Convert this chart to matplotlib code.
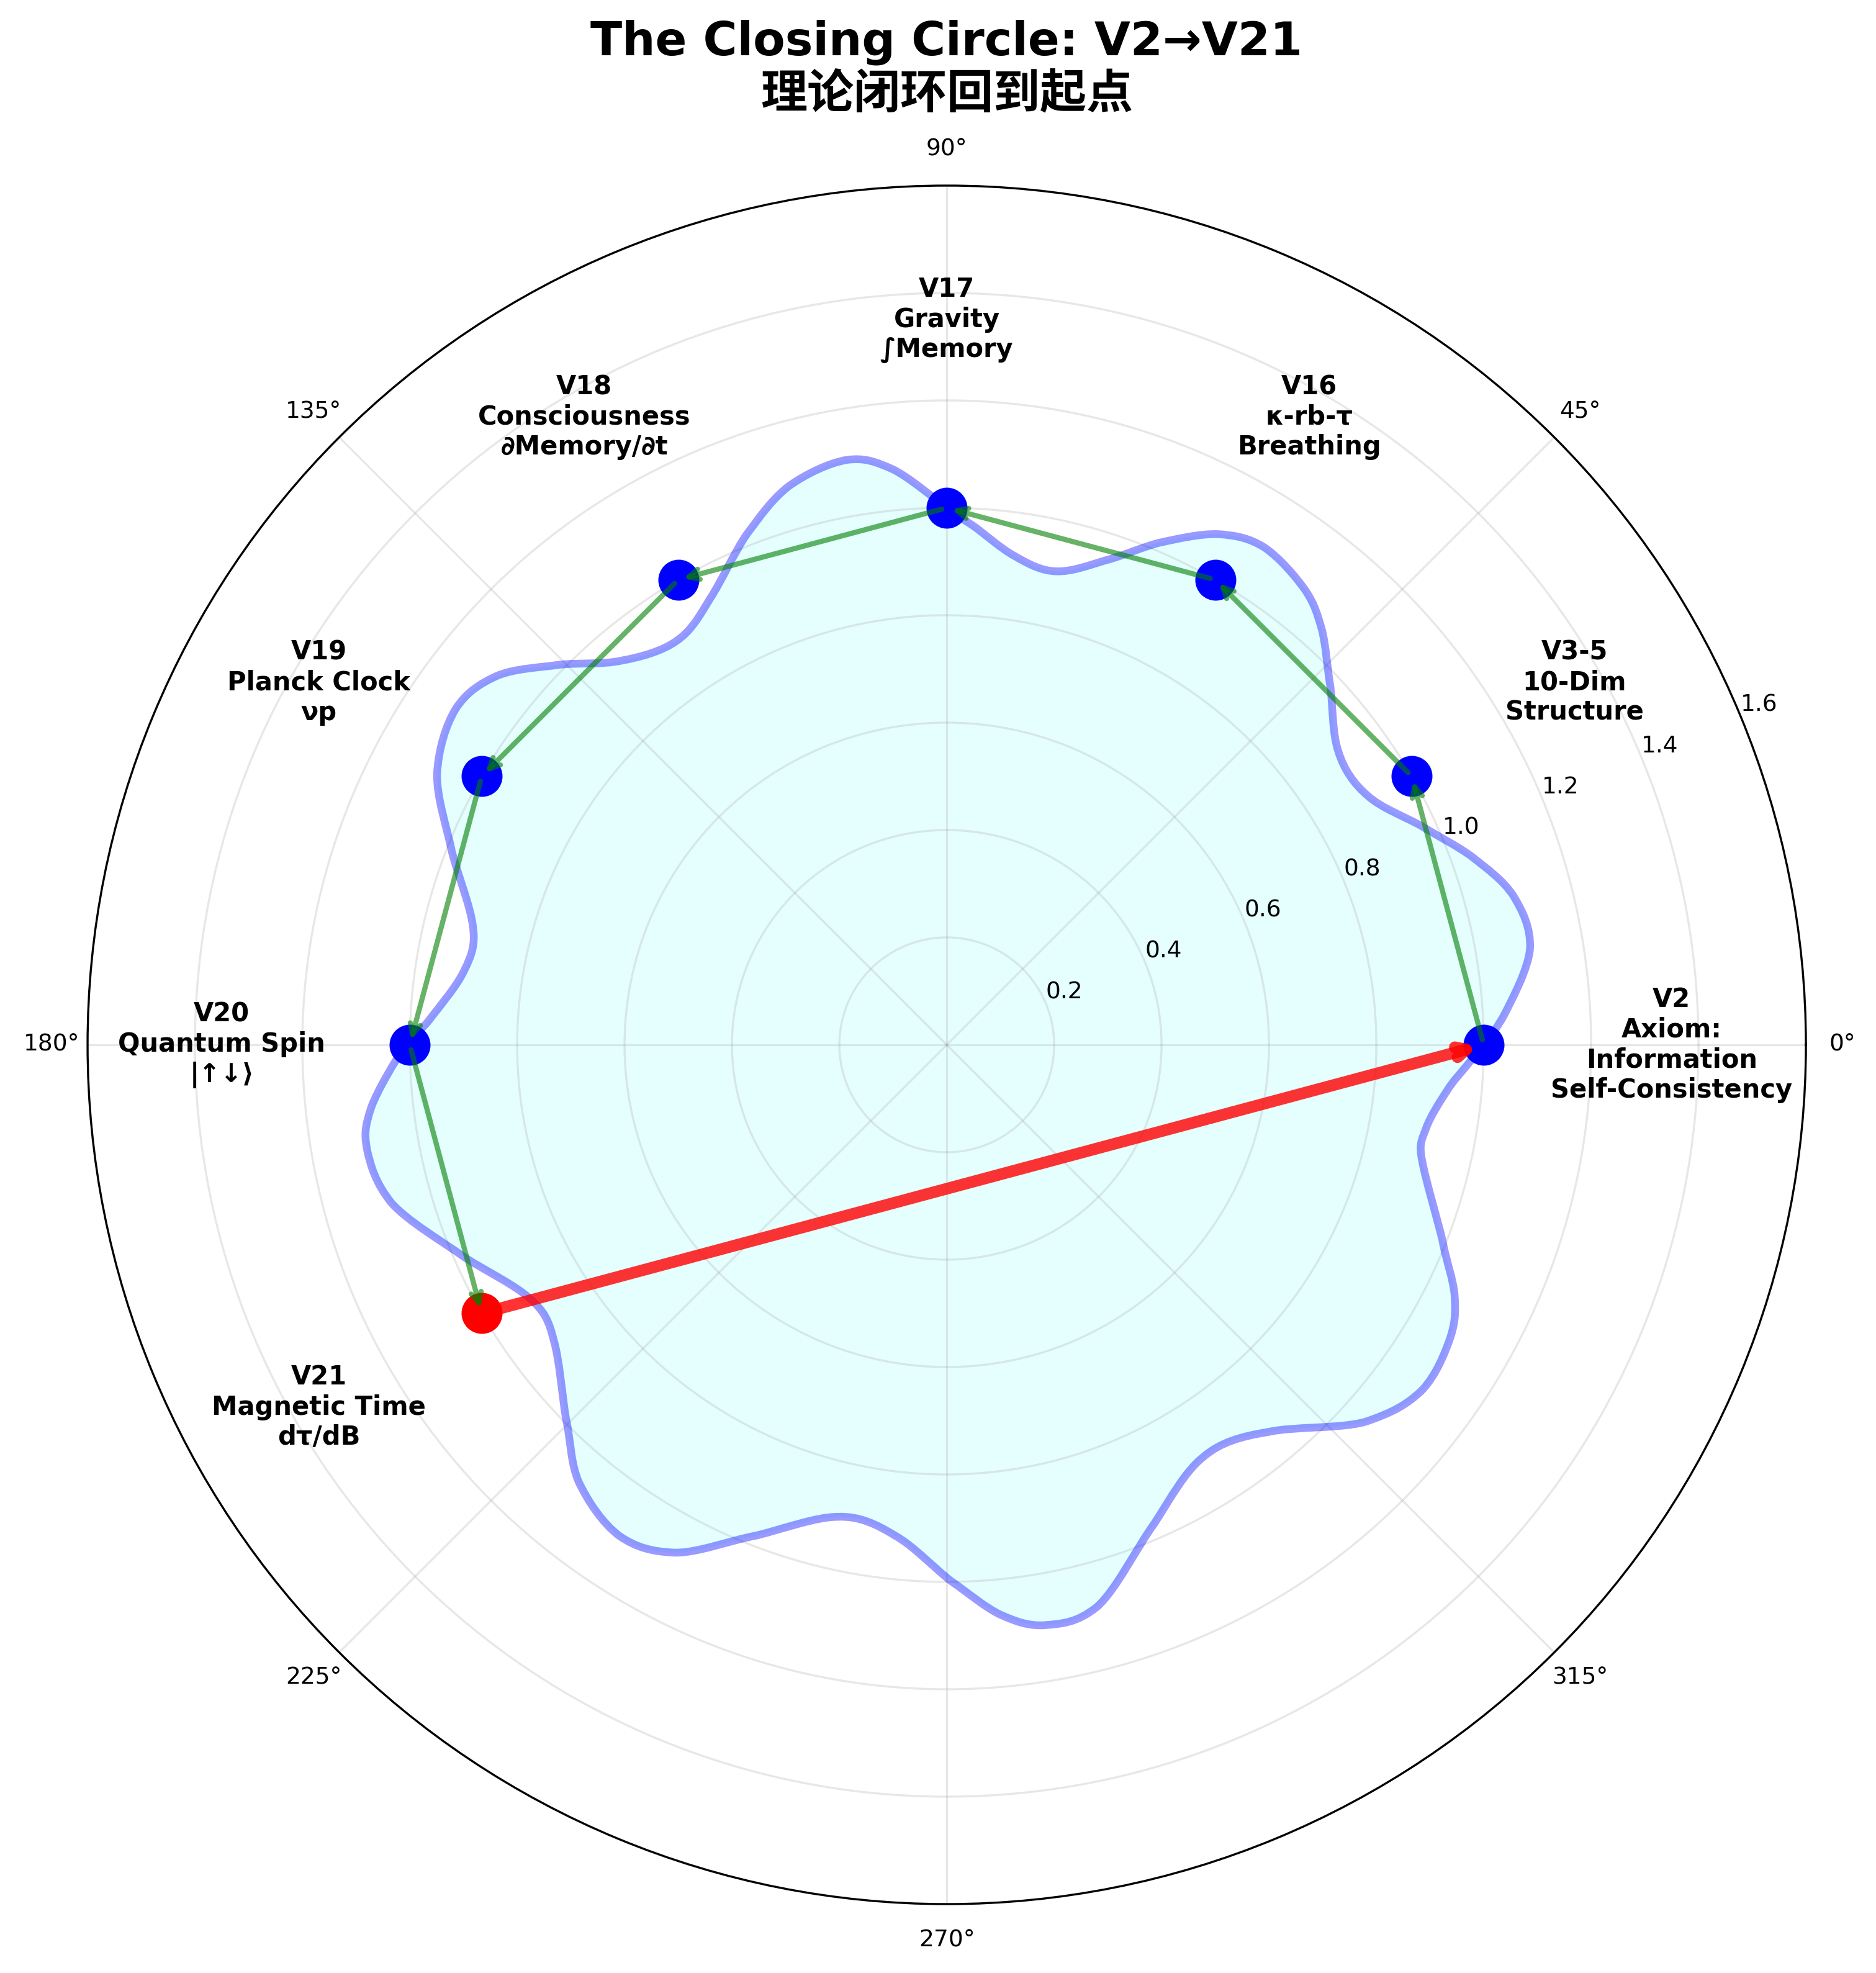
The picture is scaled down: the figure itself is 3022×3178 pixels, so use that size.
import numpy as np
import matplotlib
matplotlib.use("Agg")
import matplotlib.pyplot as plt
from matplotlib.path import Path
from matplotlib.patches import PathPatch

plt.rcParams['font.family'] = ['DejaVu Sans', 'Noto Sans CJK SC']

# stations on the circle (angle in degrees, radius)
names = ["V2\nAxiom:\nInformation\nSelf-Consistency",
         "V3-5\n10-Dim\nStructure",
         "V16\nκ-rb-τ\nBreathing",
         "V17\nGravity\n∫Memory",
         "V18\nConsciousness\n∂Memory/∂t",
         "V19\nPlanck Clock\nνp",
         "V20\nQuantum Spin\n|↑↓⟩",
         "V21\nMagnetic Time\ndτ/dB"]
ang_deg = [0, 30, 60, 90, 120, 150, 180, 210]
rad = [1.0, 1.0, 1.0, 1.0, 1.0, 1.0, 1.0, 1.0]
label_r = 1.35

# wavy outline (degrees, radius)
wave_deg = [0, 3.2, 9.4, 14.75, 19.7, 24.7, 30.6, 36.8, 43.0, 47.9, 51.7, 57.5,
            62.0, 67.0, 71.8, 77.0, 82.1, 87.1, 90, 95.4, 99.7, 105.8, 111.4,
            118.0, 123.8, 130.2, 135.5, 140.6, 145.6, 152.0, 158.7, 165.9,
            171.2, 177.0, 180, 186.2, 190.2, 195.9, 203.8, 211.3, 217.0, 224.5,
            229.9, 236.3, 241.9, 248.8, 257.0, 264.0, 270.5, 275.4, 279.6,
            285.0, 293.5, 301.9, 309.7, 318.0, 324.0, 330.0, 333.8, 338.5,
            346.2, 350.1, 354.7, 357.7, 360]
wave_r = [1.0, 1.041, 1.101, 1.091, 1.039, 0.974, 0.911, 0.911, 0.977, 1.042,
          1.078, 1.099, 1.077, 1.016, 0.950, 0.905, 0.919, 0.968, 1.0, 1.077,
          1.105, 1.081, 1.021, 0.940, 0.905, 0.937, 1.010, 1.083, 1.108, 1.075,
          0.989, 0.910, 0.909, 0.962, 1.007, 1.078, 1.097, 1.075, 0.981, 0.909,
          0.916, 0.994, 1.064, 1.099, 1.072, 0.980, 0.902, 0.919, 0.999, 1.066,
          1.096, 1.083, 0.971, 0.904, 0.937, 1.049, 1.094, 1.084, 1.054, 0.992,
          0.912, 0.906, 0.935, 0.969, 1.0]

r_ticks = [0.2, 0.4, 0.6, 0.8, 1.0, 1.2, 1.4, 1.6]

th = np.deg2rad(ang_deg)


def smooth_closed_path(theta_deg, r):
    # bezier handles through the read points so the outline is drawn smooth
    pts = np.column_stack([np.deg2rad(theta_deg), r])
    n = len(pts) - 1  # last point repeats the first one, one turn later
    turn = np.array([2 * np.pi, 0.0])
    verts = [pts[0]]
    codes = [Path.MOVETO]
    for i in range(n):
        p0 = pts[i - 1] if i > 0 else pts[n - 1] - turn
        p1 = pts[i]
        p2 = pts[i + 1]
        p3 = pts[i + 2] if i + 2 <= n else pts[1] + turn
        verts += [p1 + (p2 - p0) / 6, p2 - (p3 - p1) / 6, p2]
        codes += [Path.CURVE4] * 3
    return Path(np.array(verts), codes)


fig = plt.figure(figsize=(3022 / 300, 3178 / 300), dpi=300)
ax = fig.add_axes([0.04666, 0.03493, 0.9160, 0.8710], projection='polar')

outline = smooth_closed_path(wave_deg, wave_r)
ax.add_patch(PathPatch(outline, facecolor='cyan', alpha=0.1, edgecolor='none',
                       transform=ax.transData, zorder=1))
ax.add_patch(PathPatch(outline, facecolor='none', edgecolor='blue', alpha=0.4,
                       lw=3, transform=ax.transData, zorder=2))

ax.scatter(th[:-1], rad[:-1], s=220, c='blue', zorder=3)
ax.scatter(th[-1:], rad[-1:], s=220, c='red', zorder=3)

# path V2 -> V21
for i in range(len(th) - 1):
    ax.annotate('', xy=(th[i + 1], rad[i + 1]), xytext=(th[i], rad[i]),
                arrowprops=dict(arrowstyle='->', color='green', lw=2, alpha=0.6),
                zorder=4)
# closing jump V21 -> V2
ax.annotate('', xy=(th[0], rad[0]), xytext=(th[-1], rad[-1]),
            arrowprops=dict(arrowstyle='->', color='red', lw=4.5, alpha=0.8),
            zorder=4)

for t, name in zip(th, names):
    ax.text(t, label_r, name, ha='center', va='center', fontsize=10,
            fontweight='bold')

ax.set_ylim(0, 1.6)
ax.set_yticks(r_ticks)
ax.tick_params(labelsize=9)
ax.grid(True, alpha=0.3)

fig.text(0.5046, 0.9654, "The Closing Circle: V2→V21\n理论闭环回到起点",
         ha='center', va='center', fontsize=18, fontweight='bold')

fig.savefig('out.png', dpi=300)
